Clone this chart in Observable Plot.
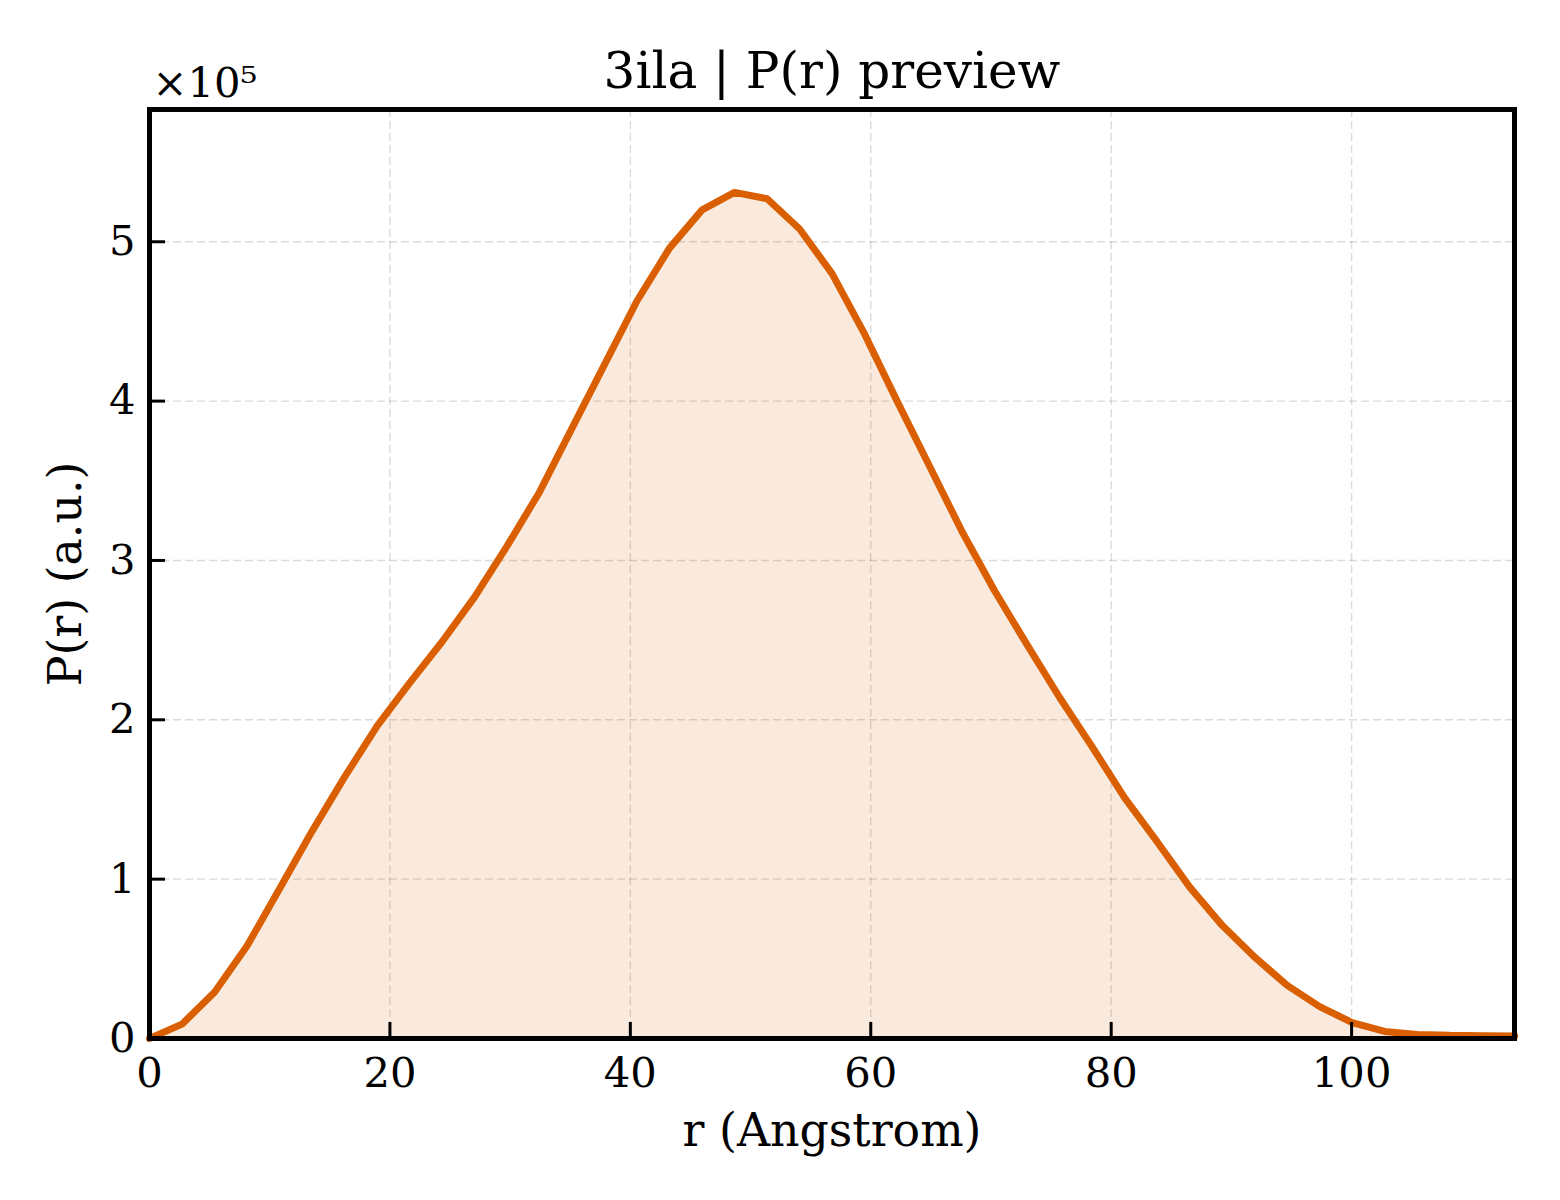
<!DOCTYPE html>
<html>
<head>
<meta charset="utf-8">
<script src="https://cdn.jsdelivr.net/npm/d3@7"></script>
<script src="https://cdn.jsdelivr.net/npm/@observablehq/plot@0.6"></script>
<style>
  html, body { margin: 0; padding: 0; background: #ffffff; }
  #chart svg { display: block; }
</style>
</head>
<body>
<div id="chart"></div>
<script>
// r values (Angstrom)
const rValues = [0.00, 2.70, 5.41, 8.11, 10.82, 13.52, 16.22, 18.93, 21.63, 24.34,
  27.04, 29.74, 32.45, 35.15, 37.86, 40.56, 43.26, 45.97, 48.67, 51.38,
  54.08, 56.78, 59.49, 62.19, 64.90, 67.60, 70.30, 73.01, 75.71, 78.42,
  81.12, 83.82, 86.53, 89.23, 91.94, 94.64, 97.34, 100.05, 102.75, 105.46,
  108.16, 110.86, 113.57];
// P(r) values (a.u.)
const pValues = [0, 9000, 29000, 58000, 94000, 130000, 164000, 196000, 223000, 249000,
  277000, 309000, 343000, 383000, 423000, 463000, 496000, 520000, 531000, 527000,
  508000, 480000, 442000, 400000, 359000, 318000, 281000, 247000, 214000, 183000,
  151000, 123500, 95000, 71000, 51000, 33300, 20000, 10000, 4400, 2500,
  2000, 1800, 1500];

const xTicks = [0, 20, 40, 60, 80, 100];
const yTicks = [0, 100000, 200000, 300000, 400000, 500000];
const yTickLabels = ["0", "1", "2", "3", "4", "5"];

const titleText = "3ila | P(r) preview";
const xLabel = "r (Angstrom)";
const yLabel = "P(r) (a.u.)";
const offsetText = "×10⁵";

const lineColor = "#d95f02";

const data = rValues.map((r, i) => ({r, p: pValues[i]}));

const W = 1560, H = 1200;
const mL = 149, mR = 46, mT = 109, mB = 162;
const fw = W - mL - mR, fh = H - mT - mB;
const font = "DejaVu Serif";

const chart = Plot.plot({
  width: W,
  height: H,
  marginLeft: mL,
  marginRight: mR,
  marginTop: mT,
  marginBottom: mB,
  style: {fontFamily: font, background: "#ffffff", color: "#000000"},
  x: {domain: [0, 113.55]},
  y: {domain: [0, 583000]},
  marks: [
    Plot.gridX(xTicks, {stroke: "#999999", strokeOpacity: 0.35, strokeWidth: 1.4, strokeDasharray: "8,4"}),
    Plot.gridY(yTicks, {stroke: "#999999", strokeOpacity: 0.35, strokeWidth: 1.4, strokeDasharray: "8,4"}),
    Plot.areaY(data, {x: "r", y: "p", fill: lineColor, fillOpacity: 0.13}),
    Plot.lineY(data, {x: "r", y: "p", stroke: lineColor, strokeWidth: 7, strokeLinejoin: "miter"}),
    Plot.ruleX(xTicks, {x: d => d, stroke: "#000", strokeWidth: 3, insetTop: fh - 16}),
    Plot.ruleY(yTicks, {y: d => d, stroke: "#000", strokeWidth: 3, insetRight: fw - 16}),
    Plot.axisX({ticks: xTicks, tickSize: 0, tickPadding: 19, fontSize: 41.7, label: null, tickFormat: d => String(d)}),
    Plot.axisY({ticks: yTicks, tickSize: 0, tickPadding: 14, fontSize: 41.7, label: null,
      tickFormat: d => yTickLabels[yTicks.indexOf(d)]}),
    Plot.frame({stroke: "#000", strokeWidth: 5}),
    Plot.text([titleText], {text: d => d, frameAnchor: "top", textAnchor: "middle", lineAnchor: "bottom", dy: -22, fontSize: 50}),
    Plot.text([offsetText], {text: d => d, frameAnchor: "top-left", textAnchor: "start", lineAnchor: "bottom", dx: 3, dy: -13, fontSize: 41.7}),
    Plot.text([xLabel], {text: d => d, frameAnchor: "bottom", textAnchor: "middle", lineAnchor: "bottom", dy: 107, fontSize: 45.8}),
    Plot.text([yLabel], {text: d => d, frameAnchor: "left", textAnchor: "middle", lineAnchor: "bottom", rotate: -90, dx: -69, fontSize: 45.8})
  ]
});

document.getElementById("chart").appendChild(chart);
</script>
</body>
</html>
